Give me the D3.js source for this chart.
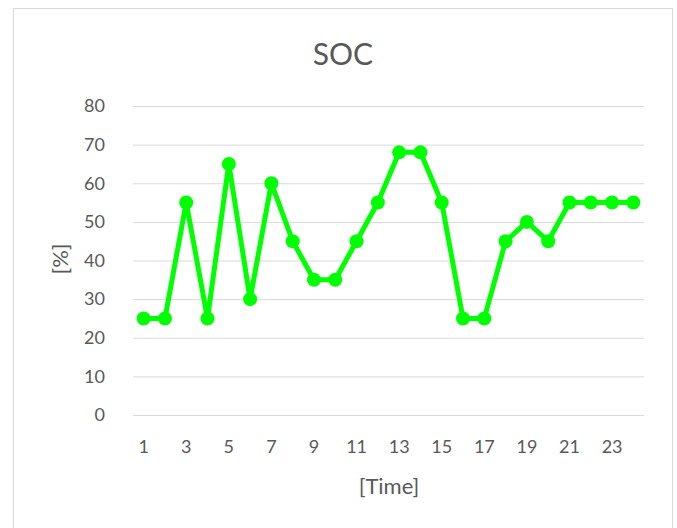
<!DOCTYPE html>
<html lang="en">
<head>
<meta charset="UTF-8">
<title>SOC</title>
<style>
  body { margin: 0; background: #fff; }
  svg { display: block; font-family: Lato, sans-serif; }
</style>
</head>
<body>
<svg id="chart"></svg>
<script src="https://d3js.org/d3.v7.min.js"></script>
<script>
// data
const times = d3.range(1, 25);
const soc = [25, 25, 55, 25, 65, 30, 60, 45, 35, 35, 45, 55, 68, 68, 55, 25, 25, 45, 50, 45, 55, 55, 55, 55];
const yTicks = [0, 10, 20, 30, 40, 50, 60, 70, 80];
const xTickLabels = times.filter(t => t % 2 === 1);

const width = 677, height = 528;
const margin = {top: 106, right: 33, bottom: 113, left: 133};

const svg = d3.select("#chart")
  .attr("width", width)
  .attr("height", height);

// chart frame
svg.append("rect")
  .attr("x", 13.5).attr("y", 8.5)
  .attr("width", 659).attr("height", 540)
  .attr("fill", "#fff")
  .attr("stroke", "#d9d9d9");

const x = d3.scaleBand()
  .domain(times)
  .range([margin.left, width - margin.right]);

const y = d3.scaleLinear()
  .domain([0, 80])
  .range([height - margin.bottom, margin.top]);

// gridlines
svg.append("g")
  .selectAll("line")
  .data(yTicks)
  .join("line")
  .attr("x1", margin.left).attr("x2", width - margin.right)
  .attr("y1", d => y(d) + 0.5).attr("y2", d => y(d) + 0.5)
  .attr("stroke", "#d9d9d9")
  .attr("stroke-width", 1);

// y axis labels
const yAxis = svg.append("g")
  .attr("transform", `translate(${margin.left},0)`)
  .call(d3.axisLeft(y).tickValues(yTicks).tickSize(0).tickPadding(28))
  .attr("font-family", "Lato, sans-serif")
  .attr("font-size", 18);
yAxis.select(".domain").remove();
yAxis.selectAll("text").attr("fill", "#595959");

// x axis labels
const xAxis = svg.append("g")
  .attr("transform", `translate(0,${height - margin.bottom})`)
  .call(d3.axisBottom(x).tickValues(xTickLabels).tickSize(0).tickPadding(25))
  .attr("font-family", "Lato, sans-serif")
  .attr("font-size", 18);
xAxis.select(".domain").remove();
xAxis.selectAll("text").attr("fill", "#595959");

// title and axis titles
svg.append("text")
  .attr("x", 343).attr("y", 65)
  .attr("text-anchor", "middle")
  .attr("font-size", 30)
  .attr("fill", "#595959")
  .text("SOC");

svg.append("text")
  .attr("x", 389).attr("y", 494)
  .attr("text-anchor", "middle")
  .attr("font-size", 22)
  .attr("fill", "#595959")
  .text("[Time]");

svg.append("text")
  .attr("transform", "translate(68,259) rotate(-90)")
  .attr("text-anchor", "middle")
  .attr("font-size", 22)
  .attr("fill", "#595959")
  .text("[%]");

// series
const cx = d => x(d.t) + x.bandwidth() / 2;
const pts = times.map((t, i) => ({t, v: soc[i]}));

svg.append("path")
  .datum(pts)
  .attr("fill", "none")
  .attr("stroke", "#00ff00")
  .attr("stroke-width", 5)
  .attr("stroke-linejoin", "round")
  .attr("d", d3.line().x(cx).y(d => y(d.v)));

svg.append("g")
  .selectAll("circle")
  .data(pts)
  .join("circle")
  .attr("cx", cx)
  .attr("cy", d => y(d.v))
  .attr("r", 7)
  .attr("fill", "#00ff00");
</script>
</body>
</html>
